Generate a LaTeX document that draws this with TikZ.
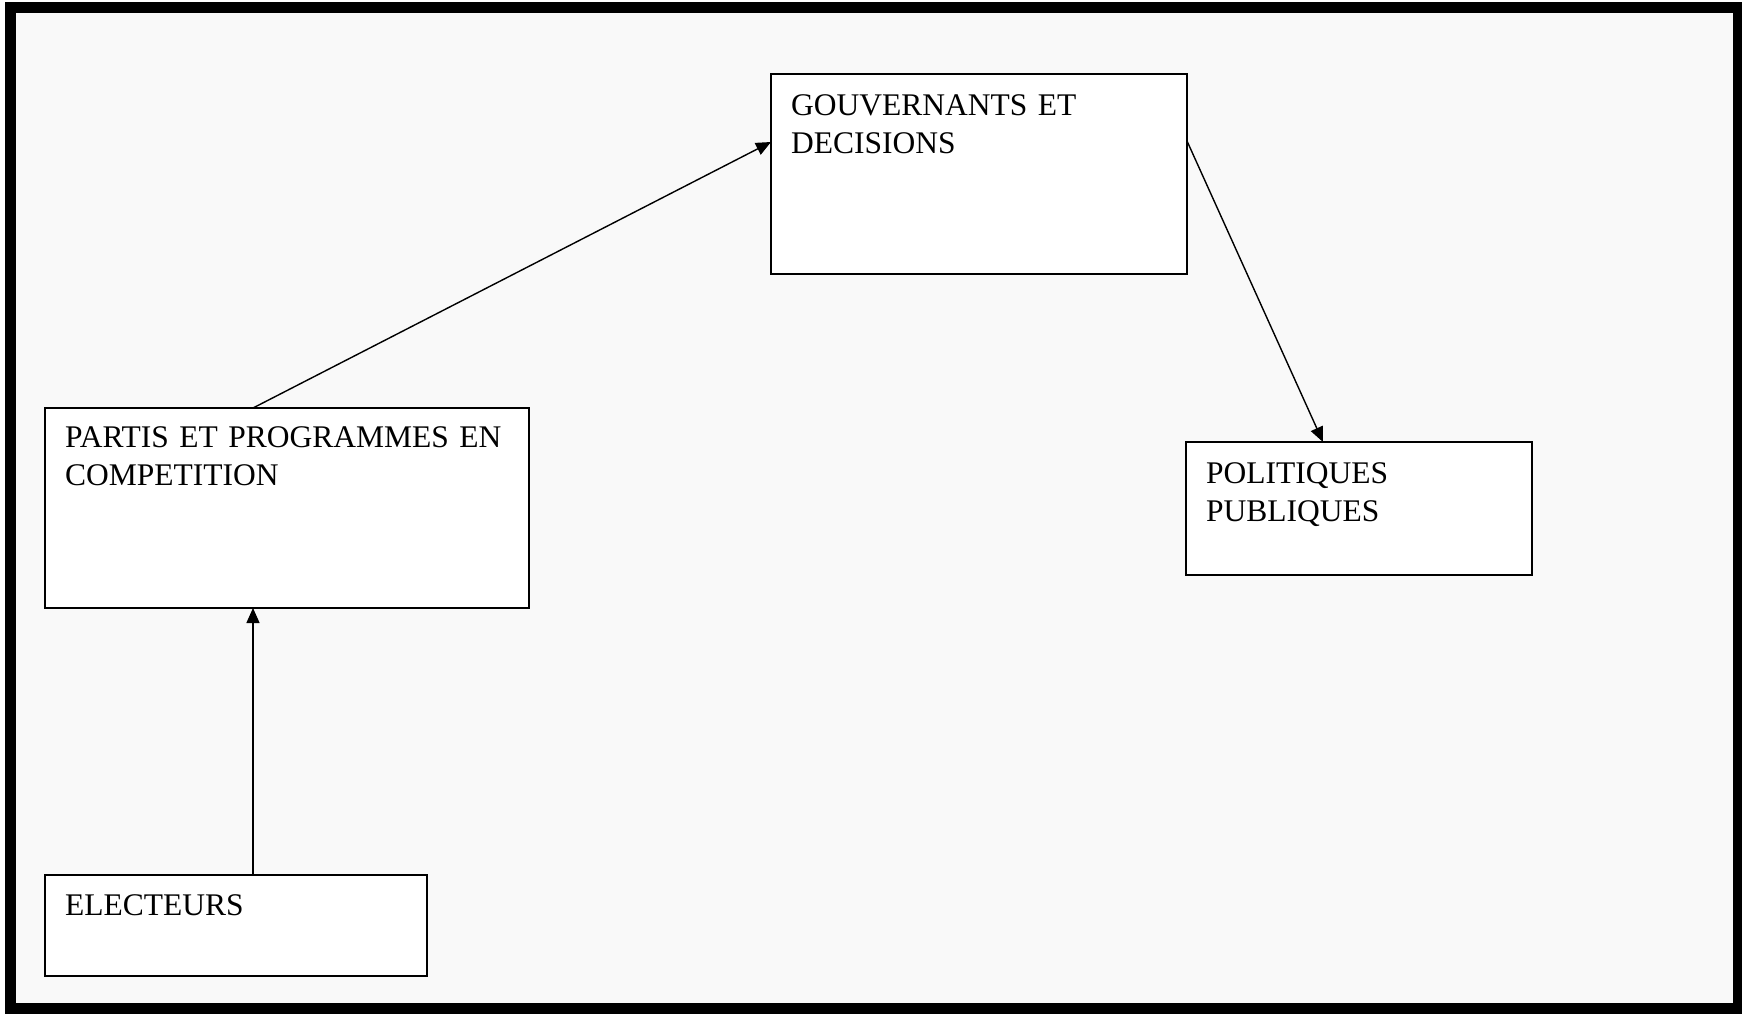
\documentclass[tikz,border=0pt]{standalone}
\usepackage{fontspec}
\setmainfont{Liberation Serif}
\usetikzlibrary{arrows.meta,calc}
\definecolor{bgpaper}{RGB}{249,249,249}
\tikzset{
  stepbox/.style={draw=black, line width=1.8pt, fill=white, anchor=north west, inner sep=0pt, outer sep=0pt},
  boxtext/.style={anchor=base west, inner sep=0pt, align=left, text width=460pt, font=\fontsize{31.5}{38}\selectfont},
  conn/.style={line width=1.4pt, -{Triangle[length=15pt,width=13pt]}},
}
\begin{document}
\begin{tikzpicture}[x=1pt,y=-1pt]
\useasboundingbox (0,0) rectangle (1742,1013);
\fill[white] (0,0) rectangle (1742,1013);
\draw[line width=11pt, fill=bgpaper] (10.5,7.5) rectangle (1738.5,1008.5);

\node[stepbox, minimum width=416pt, minimum height=200pt] (gov) at (771,74) {};
\node[stepbox, minimum width=484pt, minimum height=200pt] (part) at (45,408) {};
\node[stepbox, minimum width=346pt, minimum height=133pt] (pol) at (1186,442) {};
\node[stepbox, minimum width=382pt, minimum height=101pt] (elec) at (45,875) {};

\node[boxtext] (govt) at ($(gov.north west)+(20,41)$) {GOUVERNANTS ET\\DECISIONS};
\node[boxtext] (partt) at ($(part.north west)+(20,39)$) {PARTIS ET PROGRAMMES EN\\COMPETITION};
\node[boxtext] (polt) at ($(pol.north west)+(20,41)$) {POLITIQUES\\PUBLIQUES};
\node[boxtext] (elect) at ($(elec.north west)+(20,40)$) {ELECTEURS};

\draw[conn] ($(elec.north west)+(208,0)$) -- ($(part.south west)+(208,0)$);
\draw[conn] ($(part.north west)+(208,0)$) -- ($(gov.north west)+(0,68)$);
\draw[conn] ($(gov.north east)+(0,67)$) -- ($(pol.north west)+(137,0)$);
\end{tikzpicture}
\end{document}
